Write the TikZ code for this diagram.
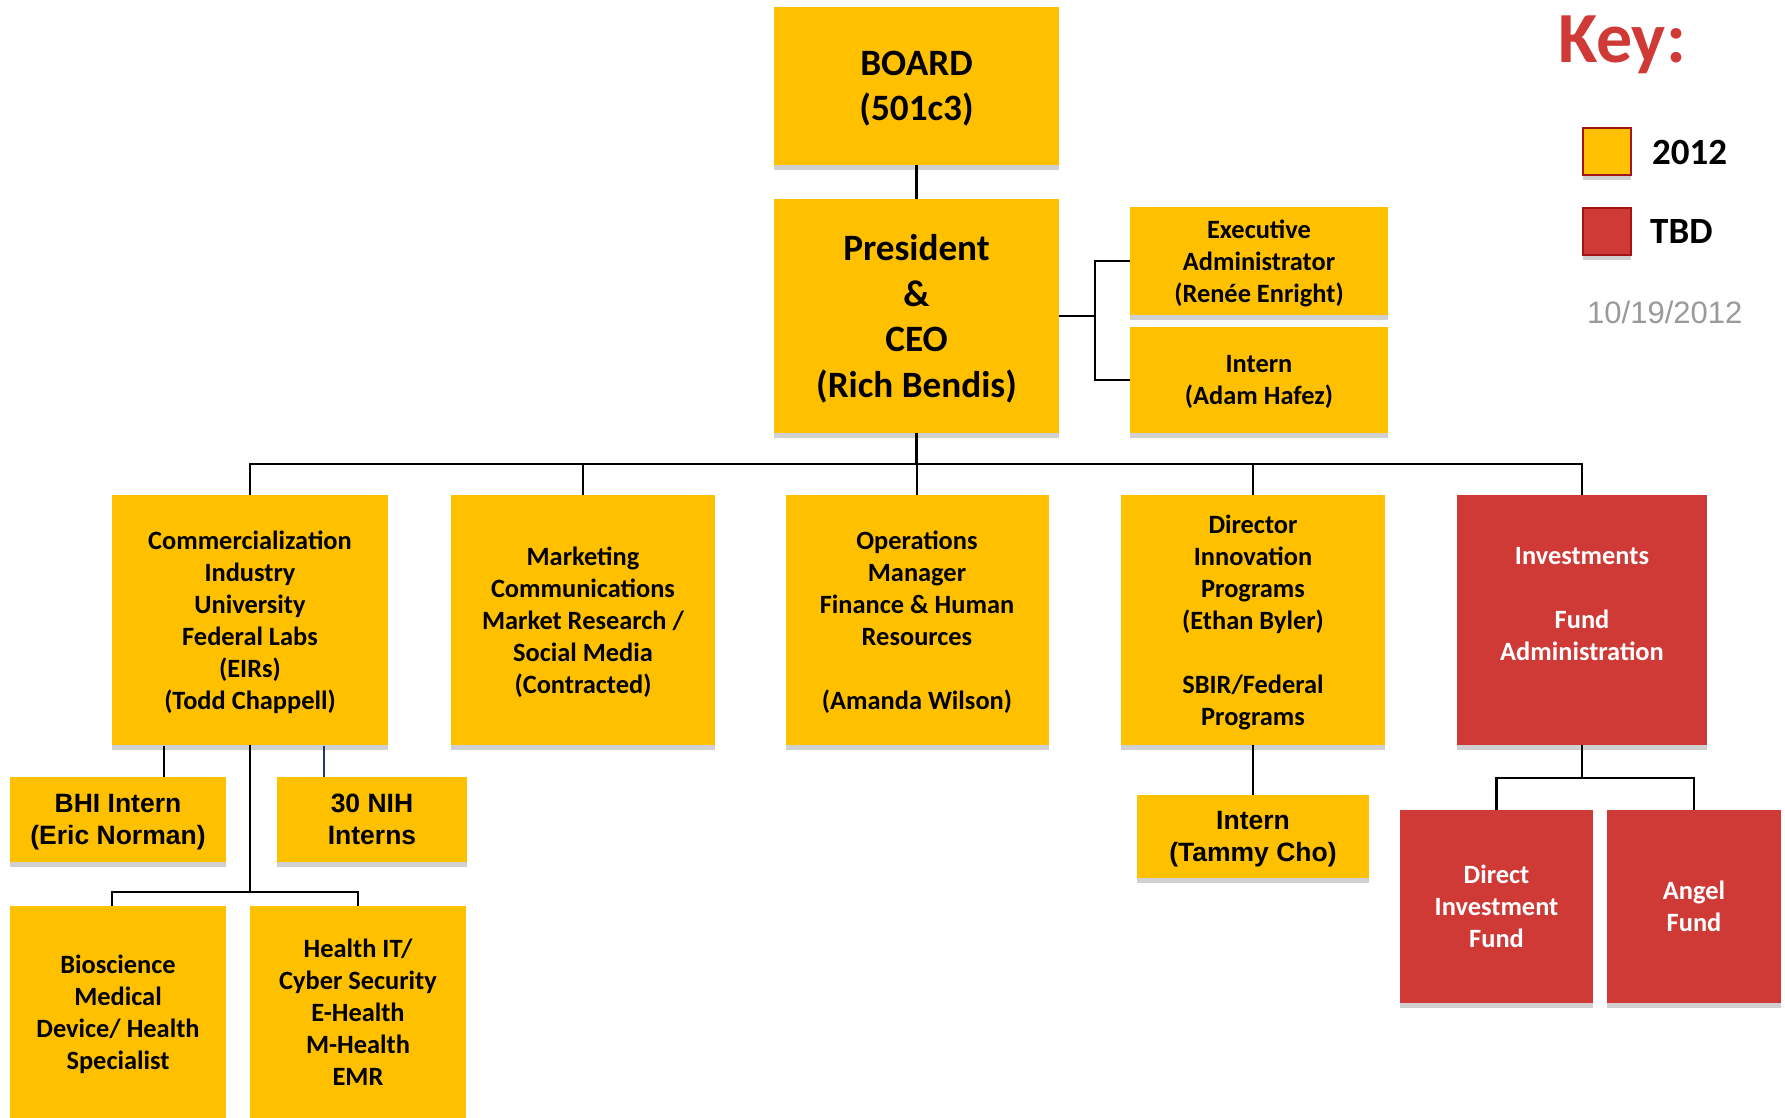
\documentclass[tikz,border=0pt]{standalone}
\usepackage{fontspec}
\setmainfont{Carlito}
\newfontfamily\arialf{Liberation Sans}
\usetikzlibrary{shadows}
\definecolor{gold}{HTML}{FFC000}
\definecolor{tbdred}{HTML}{CF3A37}
\definecolor{keyborder}{HTML}{A31515}
\definecolor{shadowgray}{HTML}{D0D0D0}
\definecolor{navyline}{HTML}{1F3A6E}
\definecolor{dategray}{HTML}{9A9A9A}
\tikzset{
  orgbox/.style={rectangle, fill=gold, inner sep=0pt, outer sep=0pt, align=center, text depth=0pt,
    font=\bfseries\fontsize{26.4}{32}\selectfont,
    drop shadow={shadow xshift=0pt, shadow yshift=-5pt, fill=shadowgray, opacity=1}},
  bigbox/.style={orgbox, font=\bfseries\fontsize{37.2}{45.5}\selectfont},
  internbox/.style={orgbox, font=\arialf\bfseries\fontsize{26.5}{32}\selectfont},
  redbox/.style={orgbox, fill=tbdred, text=white},
  conn/.style={line width=2.5pt, black},
  keysq/.style={rectangle, draw=keyborder, line width=2pt, minimum width=48pt, minimum height=47pt,
    inner sep=0pt, outer sep=0pt,
    drop shadow={shadow xshift=0pt, shadow yshift=-5pt, fill=shadowgray, opacity=1}},
  keytext/.style={anchor=base west, inner sep=0pt, font=\bfseries\fontsize{37}{44}\selectfont}
}
\begin{document}
\begin{tikzpicture}[x=1pt, y=-1pt]
\useasboundingbox (0,0) rectangle (1785,1118);

% top
\node[bigbox, minimum width=285pt, minimum height=158pt] (board) at (916.5,86) {BOARD\\(501c3)};
\node[bigbox, minimum width=285pt, minimum height=234pt] (pres) at (916.5,316) {President\\\&\\CEO\\(Rich Bendis)};
\node[orgbox, minimum width=258pt, minimum height=108pt] (exec) at (1259,261) {Executive\\Administrator\\(Renée Enright)};
\node[orgbox, minimum width=258pt, minimum height=106pt] (adam) at (1259,380) {Intern\\(Adam Hafez)};

% main row
\node[orgbox, minimum width=276pt, minimum height=250pt] (comm) at (250,620) {Commercialization\\Industry\\University\\Federal Labs\\(EIRs)\\(Todd Chappell)};
\node[orgbox, minimum width=264pt, minimum height=250pt] (mkt) at (583,620) {Marketing\\Communications\\Market Research /\\Social Media\\(Contracted)};
\node[orgbox, minimum width=263pt, minimum height=250pt] (ops) at (917,620) {Operations\\Manager\\Finance \& Human\\Resources\\~\\(Amanda Wilson)};
\node[orgbox, minimum width=264pt, minimum height=250pt] (dir) at (1253,620) {Director\\Innovation\\Programs\\(Ethan Byler)\\~\\SBIR/Federal\\Programs};
\node[redbox, minimum width=250pt, minimum height=250pt] (inv) at (1582,620) {Investments\\~\\Fund\\Administration\\~};

% sub rows
\node[internbox, minimum width=216pt, minimum height=85pt] (bhi) at (118,819.5) {BHI Intern\\(Eric Norman)};
\node[internbox, minimum width=190pt, minimum height=85pt] (nih) at (372,819.5) {30 NIH\\Interns};
\node[orgbox, minimum width=216pt, minimum height=212pt] (bio) at (118,1012) {Bioscience\\Medical\\Device/ Health\\Specialist};
\node[orgbox, minimum width=216pt, minimum height=212pt] (hit) at (358,1012) {Health IT/\\Cyber Security\\E-Health\\M-Health\\EMR};
\node[internbox, minimum width=232pt, minimum height=83pt] (tammy) at (1253,836.5) {Intern\\(Tammy Cho)};
\node[redbox, minimum width=193pt, minimum height=193pt] (direct) at (1496.5,906.5) {Direct\\Investment\\Fund};
\node[redbox, minimum width=174pt, minimum height=193pt] (angel) at (1694,906.5) {Angel\\Fund};

% connectors
\coordinate (rj) at (1095,316);
\coordinate (bus) at (916.5,464);
\coordinate (c1) at (164,746);
\coordinate (c2) at (324,746);
\coordinate (bl) at (112,892);
\coordinate (ij) at (1582,778);

\draw[conn] (board.south) -- (pres.north);
\draw[conn] (pres.east) -- (rj);
\draw[conn] (exec.west) -| (rj) |- (adam.west);
\draw[conn] (pres.south) -- (bus);
\draw[conn] (comm.north) |- (bus) -| (inv.north);
\draw[conn] (mkt.north) -- (mkt.north |- bus);
\draw[conn] (ops.north) -- (ops.north |- bus);
\draw[conn] (dir.north) -- (dir.north |- bus);
\draw[conn] (c1) -- (c1 |- bhi.north);
\draw[conn, navyline] (c2) -- (c2 |- nih.north);
\draw[conn] (comm.south) -- (comm.south |- bl);
\draw[conn] (bl |- bio.north) -- (bl) -| (hit.north);
\draw[conn] (dir.south) -- (tammy.north);
\draw[conn] (inv.south) -- (ij);
\draw[conn] (direct.north) |- (ij) -| (angel.north);

% key
\node[anchor=base west, inner sep=0pt, text=tbdred, font=\bfseries\fontsize{72}{80}\selectfont] (keyt) at (1558,63) {Key:};
\node[keysq, fill=gold] (sq1) at (1607,151.5) {};
\node[keytext] (k1) at (1652,165) {2012};
\node[keysq, fill=tbdred] (sq2) at (1607,231.5) {};
\node[keytext] (k2) at (1650,243) {TBD};
\node[anchor=base west, inner sep=0pt, text=dategray, font=\arialf\fontsize{31}{36}\selectfont] (date) at (1587,323) {10/19/2012};
\end{tikzpicture}
\end{document}
